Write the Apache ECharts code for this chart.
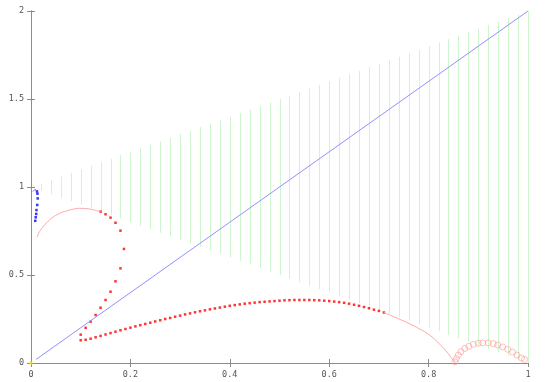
<!DOCTYPE html>
<html>
<head>
<meta charset="utf-8">
<script src="https://cdn.jsdelivr.net/npm/echarts@6/dist/echarts.min.js"></script>
<style>html,body{margin:0;padding:0;background:#fff;}#c{width:545px;height:382px;}</style>
</head>
<body>
<div id="c"></div>
<script>
// Green vertical bars: x, low end, high end
const greenX    = [0.02,0.04,0.06,0.08,0.10,0.12,0.14,0.16,0.18,0.20,0.22,0.24,0.26,0.28,0.30,0.32,0.34,0.36,0.38,0.40,0.42,0.44,0.46,0.48,0.50,0.52,0.54,0.56,0.58,0.60,0.62,0.64,0.66,0.68,0.70,0.72,0.74,0.76,0.78,0.80,0.82,0.84,0.86,0.88,0.90,0.92,0.94,0.96,0.98,1.00];
const greenLow  = [0.98,0.96,0.94,0.92,0.90,0.88,0.86,0.84,0.82,0.80,0.78,0.76,0.74,0.72,0.70,0.68,0.66,0.64,0.62,0.60,0.58,0.56,0.54,0.52,0.50,0.48,0.46,0.44,0.42,0.40,0.38,0.36,0.34,0.32,0.30,0.28,0.26,0.24,0.22,0.20,0.18,0.16,0.14,0.12,0.10,0.08,0.06,0.04,0.02,0.00];
const greenHigh = [1.02,1.04,1.06,1.08,1.10,1.12,1.14,1.16,1.18,1.20,1.22,1.24,1.26,1.28,1.30,1.32,1.34,1.36,1.38,1.40,1.42,1.44,1.46,1.48,1.50,1.52,1.54,1.56,1.58,1.60,1.62,1.64,1.66,1.68,1.70,1.72,1.74,1.76,1.78,1.80,1.82,1.84,1.86,1.88,1.90,1.92,1.94,1.96,1.98,2.00];

// Diagonal line
const diagX = [0.01, 1.0];
const diagY = [0.02, 2.0];

// Blue dots
const blueX = [0.012,0.013,0.0135,0.0125,0.011,0.0105,0.0095,0.0085];
const blueY = [0.975,0.962,0.935,0.898,0.869,0.847,0.828,0.808];
// small blue arc at the top
const blueArcX = [0.004,0.007,0.010,0.012];
const blueArcY = [0.975,0.983,0.984,0.976];

// Pink curve pieces
const pinkHeadX = [0.012,0.017,0.027,0.041,0.057,0.078,0.098,0.118,0.140];
const pinkHeadY = [0.714,0.746,0.784,0.822,0.850,0.869,0.879,0.875,0.860];
const pinkTailX = [0.710,0.730,0.756,0.777,0.797,0.812,0.824,0.835,0.844,0.853];
const pinkTailY = [0.287,0.263,0.231,0.201,0.169,0.136,0.102,0.069,0.036,0.000];

// Red filled dots
const redX = [0.14,0.15,0.16,0.17,0.18,0.187,0.18,0.17,0.16,0.15,0.14,0.13,0.12,0.11,0.10,
  0.10,0.11,0.12,0.13,0.14,0.15,0.16,0.17,0.18,0.19,0.20,0.21,0.22,0.23,0.24,0.25,0.26,0.27,0.28,0.29,
  0.30,0.31,0.32,0.33,0.34,0.35,0.36,0.37,0.38,0.39,0.40,0.41,0.42,0.43,0.44,0.45,0.46,0.47,0.48,0.49,
  0.50,0.51,0.52,0.53,0.54,0.55,0.56,0.57,0.58,0.59,0.60,0.61,0.62,0.63,0.64,0.65,0.66,0.67,0.68,0.69,0.70,0.71];
const redY = [0.860,0.845,0.826,0.797,0.752,0.648,0.538,0.464,0.405,0.358,0.314,0.273,0.235,0.200,0.161,
  0.129,0.132,0.138,0.146,0.154,0.162,0.170,0.178,0.186,0.193,0.201,0.208,0.215,0.222,0.229,0.236,0.243,0.250,0.256,0.263,
  0.269,0.276,0.282,0.288,0.294,0.299,0.305,0.310,0.315,0.320,0.325,0.329,0.333,0.337,0.340,0.343,0.346,0.348,0.350,0.352,
  0.354,0.356,0.357,0.358,0.358,0.358,0.358,0.357,0.356,0.354,0.352,0.349,0.346,0.342,0.337,0.331,0.325,0.318,0.311,0.303,0.296,0.287];

// Hollow circles
const ringX = [0.853,0.856,0.860,0.865,0.873,0.881,0.890,0.900,0.909,0.920,0.930,0.939,0.949,0.959,0.969,0.978,0.987,0.993];
const ringY = [0.007,0.025,0.045,0.064,0.083,0.095,0.106,0.112,0.114,0.114,0.110,0.102,0.091,0.078,0.062,0.045,0.028,0.020];

// Yellow point at origin
const yellowX = [0.0];
const yellowY = [0.0];

const zip = (a, b) => a.map((v, i) => [v, b[i]]);

const axisColor = '#8c8c8c';
const labelStyle = {color: '#555', fontFamily: 'DejaVu Sans Mono', fontSize: 8.5};

const chart = echarts.init(document.getElementById('c'), null, {renderer: 'canvas'});
chart.setOption({
  animation: false,
  backgroundColor: '#fff',
  grid: {left: 31, right: 17, top: 11, bottom: 19},
  xAxis: [
    {type: 'value', min: 0, max: 1, interval: 0.2, position: 'bottom',
     axisLine: {show: true, lineStyle: {color: axisColor}},
     axisTick: {show: true, inside: true, length: 4, lineStyle: {color: axisColor}},
     axisLabel: Object.assign({margin: 7}, labelStyle),
     splitLine: {show: false}},
    {type: 'value', min: 0, max: 1, interval: 0.2, position: 'top',
     axisLine: {show: true, lineStyle: {color: axisColor}},
     axisTick: {show: true, inside: true, length: 4, lineStyle: {color: axisColor}},
     axisLabel: {show: false}, splitLine: {show: false}}
  ],
  yAxis: [
    {type: 'value', min: 0, max: 2, interval: 0.5, position: 'left',
     axisLine: {show: true, lineStyle: {color: axisColor}},
     axisTick: {show: true, inside: true, length: 4, lineStyle: {color: axisColor}},
     axisLabel: Object.assign({margin: 7}, labelStyle),
     splitLine: {show: false}},
    {type: 'value', min: 0, max: 2, interval: 0.5, position: 'right',
     axisLine: {show: true, lineStyle: {color: axisColor}},
     axisTick: {show: true, inside: true, length: 4, lineStyle: {color: axisColor}},
     axisLabel: {show: false}, splitLine: {show: false}}
  ],
  series: [
    {type: 'custom', name: 'bars',
     data: greenX.map((x, i) => [x, greenLow[i], greenHigh[i]]),
     encode: {x: 0, y: [1, 2]},
     renderItem: function (params, api) {
       const p1 = api.coord([api.value(0), api.value(1)]);
       const p2 = api.coord([api.value(0), api.value(2)]);
       return {type: 'line', shape: {x1: Math.round(p1[0]) + 0.5, y1: p1[1], x2: Math.round(p2[0]) + 0.5, y2: p2[1]},
               style: {stroke: '#cff5cf', lineWidth: 1}};
     }},
    {type: 'line', data: zip(diagX, diagY), showSymbol: false, symbol: 'none',
     lineStyle: {color: '#9090ff', width: 1}},
    {type: 'line', data: zip(pinkHeadX, pinkHeadY), symbol: 'none', smooth: 0.3,
     lineStyle: {color: '#ffa8a8', width: 1}},
    {type: 'line', data: zip(pinkTailX, pinkTailY), symbol: 'none', smooth: 0.3,
     lineStyle: {color: '#ffa8a8', width: 1}},
    {type: 'line', data: zip(blueArcX, blueArcY), symbol: 'none', smooth: 0.4,
     lineStyle: {color: '#6060ff', width: 1}},
    {type: 'scatter', data: zip(blueX, blueY), symbol: 'rect', symbolSize: 2.5,
     itemStyle: {color: '#0000ff'}},
    {type: 'scatter', data: zip(redX, redY), symbol: 'rect', symbolSize: 2.5,
     itemStyle: {color: '#ff0000'}},
    {type: 'scatter', data: zip(ringX, ringY), symbol: 'circle', symbolSize: 6,
     itemStyle: {color: 'rgba(255,255,255,0)', borderColor: '#ff9a9a', borderWidth: 0.8}},
    {type: 'scatter', data: zip(yellowX, yellowY), symbol: 'rect', symbolSize: 3,
     itemStyle: {color: '#ffe000'}, clip: false}
  ]
});
</script>
</body>
</html>
